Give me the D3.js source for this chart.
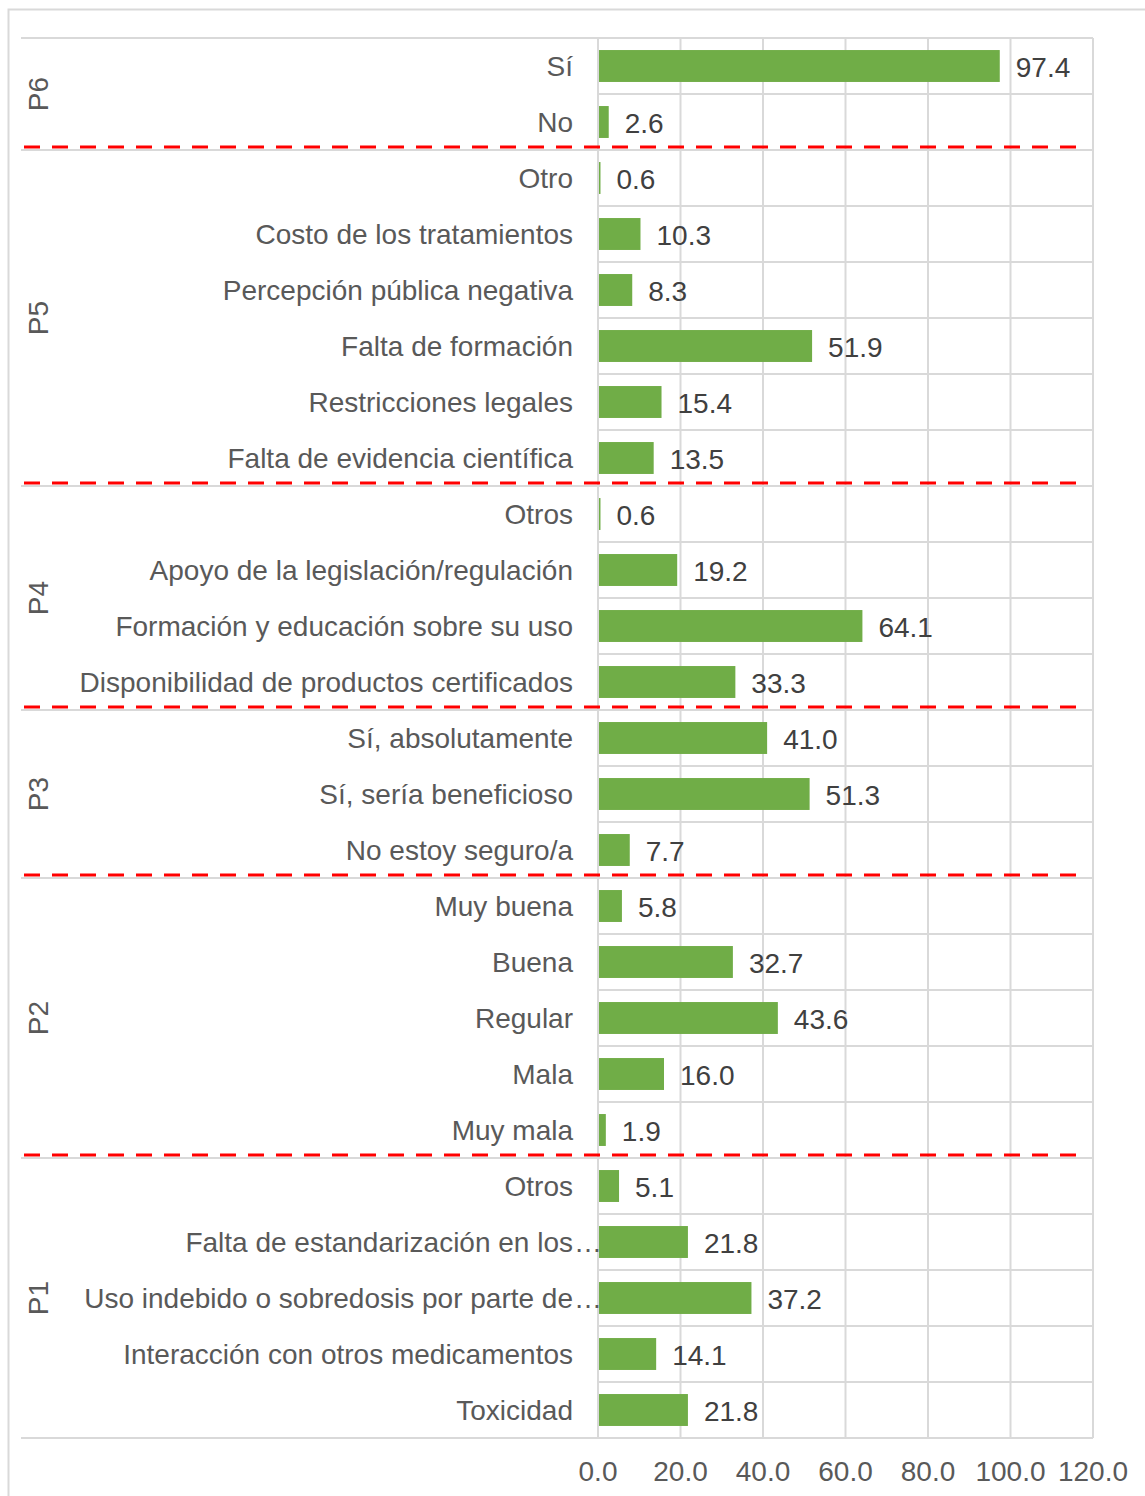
<!DOCTYPE html>
<html>
<head>
<meta charset="utf-8">
<script src="https://cdn.jsdelivr.net/npm/d3@7"></script>
<style>
  body { margin: 0; background: #ffffff; }
  text { font-family: "Liberation Sans", Arial, sans-serif; }
</style>
</head>
<body>
<div id="chart"></div>
<script>
// Data, top to bottom as drawn
const groupNames = ["P6", "P5", "P4", "P3", "P2", "P1"];
const groupSizes = [2, 6, 4, 3, 5, 5];
const categories = [
    "Sí", "No",
    "Otro", "Costo de los tratamientos", "Percepción pública negativa",
    "Falta de formación", "Restricciones legales", "Falta de evidencia científica",
    "Otros", "Apoyo de la legislación/regulación", "Formación y educación sobre su uso",
    "Disponibilidad de productos certificados",
    "Sí, absolutamente", "Sí, sería beneficioso", "No estoy seguro/a",
    "Muy buena", "Buena", "Regular", "Mala", "Muy mala",
    "Otros", "Falta de estandarización en los…", "Uso indebido o sobredosis por parte de…",
    "Interacción con otros medicamentos", "Toxicidad"
];
const values = [
    97.4, 2.6,
    0.6, 10.3, 8.3, 51.9, 15.4, 13.5,
    0.6, 19.2, 64.1, 33.3,
    41.0, 51.3, 7.7,
    5.8, 32.7, 43.6, 16.0, 1.9,
    5.1, 21.8, 37.2, 14.1, 21.8
];
const xTicks = [0, 20, 40, 60, 80, 100, 120];

const WIDTH = 1145;
const HEIGHT = 1496;
const PLOT = { left: 598, right: 1093, top: 38, bottom: 1438 };
const CAT_LEFT = 21;
const GRID = "#d9d9d9";
const BAR = "#70ad47";
const FONT = 28;

var svg = d3.select("#chart").append("svg")
    .attr("width", WIDTH)
    .attr("height", HEIGHT)
    .attr("viewBox", [0, 0, WIDTH, HEIGHT]);

// Chart frame
svg.append("rect")
    .attr("x", 8.5).attr("y", 9.5)
    .attr("width", WIDTH).attr("height", HEIGHT)
    .style("fill", "none").style("stroke", GRID).style("stroke-width", 2);

var x = d3.scaleLinear().domain([0, 120]).range([PLOT.left, PLOT.right]);
var y = d3.scaleBand().domain(d3.range(categories.length)).range([PLOT.top, PLOT.bottom]).padding(0);
var barH = y.bandwidth() * 0.57;

// group start indices
var starts = [];
var acc = 0;
groupSizes.forEach(function(n) { starts.push(acc); acc += n; });

// Vertical gridlines
svg.append("g").selectAll("line").data(xTicks).join("line")
    .attr("x1", d => x(d)).attr("x2", d => x(d))
    .attr("y1", PLOT.top).attr("y2", PLOT.bottom)
    .style("stroke", GRID).style("stroke-width", 2);

// Row separators (inside plot) and group separators (full width)
var rowLines = d3.range(categories.length + 1);
svg.append("g").selectAll("line").data(rowLines).join("line")
    .attr("x1", function(i) {
        var isGroupEdge = i === 0 || i === categories.length || starts.indexOf(i) >= 0;
        return isGroupEdge ? CAT_LEFT : PLOT.left;
    })
    .attr("x2", PLOT.right)
    .attr("y1", i => PLOT.top + i * y.bandwidth())
    .attr("y2", i => PLOT.top + i * y.bandwidth())
    .style("stroke", GRID).style("stroke-width", 2);

// Bars
svg.append("g").selectAll("rect").data(values).join("rect")
    .attr("x", x(0) + 1)
    .attr("y", (d, i) => y(i) + (y.bandwidth() - barH) / 2)
    .attr("width", d => Math.max(0, x(d) - x(0) - 1))
    .attr("height", barH)
    .style("fill", BAR);

// Value labels
svg.append("g").selectAll("text").data(values).join("text")
    .text(d => d3.format(".1f")(d))
    .attr("x", d => x(d) + 16)
    .attr("y", (d, i) => y(i) + y.bandwidth() / 2 + 1)
    .attr("dominant-baseline", "central")
    .style("font-size", FONT + "px")
    .style("fill", "#404040");

// Category labels
var catG = svg.append("g");
categories.forEach(function(c, i) {
    var cy = y(i) + y.bandwidth() / 2;
    var truncated = c.endsWith("…");
    catG.append("text")
        .text(truncated ? c.slice(0, -1) : c)
        .attr("x", PLOT.left - 25)
        .attr("y", cy)
        .attr("dominant-baseline", "central")
        .attr("text-anchor", "end")
        .style("font-size", FONT + "px")
        .style("fill", "#595959");
    if (truncated) {
        catG.append("text")
            .text("…")
            .attr("x", PLOT.left - 24)
            .attr("y", cy)
            .attr("dominant-baseline", "central")
            .style("font-size", FONT + "px")
            .style("fill", "#595959");
    }
});

// Group labels (rotated)
groupNames.forEach(function(g, k) {
    var y0 = PLOT.top + starts[k] * y.bandwidth();
    var y1 = y0 + groupSizes[k] * y.bandwidth();
    var cy = (y0 + y1) / 2;
    svg.append("text")
        .text(g)
        .attr("transform", `translate(38, ${cy}) rotate(-90)`)
        .attr("text-anchor", "middle")
        .attr("dominant-baseline", "central")
        .style("font-size", FONT + "px")
        .style("fill", "#595959");
});

// X axis tick labels
svg.append("g").selectAll("text").data(xTicks).join("text")
    .text(d => d3.format(".1f")(d))
    .attr("x", d => x(d))
    .attr("y", PLOT.bottom + 33)
    .attr("text-anchor", "middle")
    .attr("dominant-baseline", "central")
    .style("font-size", FONT + "px")
    .style("fill", "#595959");

// Red dashed dividers between question groups
svg.append("g").selectAll("line").data(starts.slice(1)).join("line")
    .attr("x1", 24).attr("x2", 1078)
    .attr("y1", i => PLOT.top + i * y.bandwidth() - 3)
    .attr("y2", i => PLOT.top + i * y.bandwidth() - 3)
    .style("stroke", "#ff0000")
    .style("stroke-width", 3)
    .style("stroke-dasharray", "16 12");
</script>
</body>
</html>
